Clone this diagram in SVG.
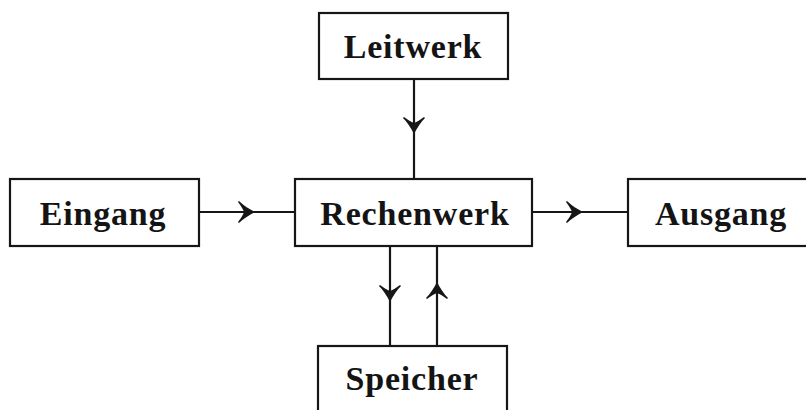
<svg xmlns="http://www.w3.org/2000/svg" width="806" height="410" viewBox="0 0 806 410">
<style>
.box{fill:#fff;stroke:#161616;stroke-width:2.2}
.lbl{font-family:"Liberation Serif","DejaVu Serif",serif;font-weight:bold;font-size:34px;letter-spacing:0.8px;fill:#141414;text-anchor:middle}
.ln{stroke:#161616;stroke-width:2.2;fill:none}
.ah{fill:#161616;stroke:none}
</style>
<defs>
<path id="chev" d="M0,0 C-3,-6 -7,-12 -11,-16 L-10,-17 C-6,-14 -3,-12 0,-11 C3,-12 6,-14 10,-17 L11,-16 C7,-12 3,-6 0,0 Z"/>
</defs>
<rect width="806" height="410" fill="#fff"/>
<g id="connectors">
<line class="ln" x1="414" y1="79" x2="414" y2="179"/>
<use href="#chev" class="ah" transform="translate(414,134)"/>
<line class="ln" x1="199" y1="212" x2="295" y2="212"/>
<use href="#chev" class="ah" transform="translate(255,212) rotate(-90)"/>
<line class="ln" x1="532" y1="212" x2="628" y2="212"/>
<use href="#chev" class="ah" transform="translate(583,212) rotate(-90)"/>
<line class="ln" x1="390" y1="246" x2="390" y2="346"/>
<use href="#chev" class="ah" transform="translate(390,302)"/>
<line class="ln" x1="437" y1="246" x2="437" y2="346"/>
<use href="#chev" class="ah" transform="translate(437,282) rotate(180)"/>
</g>
<g id="leitwerk">
<rect class="box" x="319" y="13" width="189" height="66"/>
<text class="lbl" x="413" y="58">Leitwerk</text>
</g>
<g id="eingang">
<rect class="box" x="10" y="179" width="189" height="67"/>
<text class="lbl" x="103" y="225">Eingang</text>
</g>
<g id="rechenwerk">
<rect class="box" x="295" y="179" width="237" height="67"/>
<text class="lbl" x="415" y="225">Rechenwerk</text>
</g>
<g id="ausgang">
<rect class="box" x="628" y="179" width="190" height="67"/>
<text class="lbl" x="721" y="225">Ausgang</text>
</g>
<g id="speicher">
<rect class="box" x="318" y="346" width="189" height="70"/>
<text class="lbl" x="412" y="390">Speicher</text>
</g>
</svg>
